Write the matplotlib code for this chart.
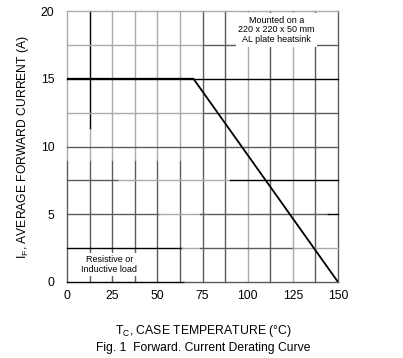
import matplotlib
matplotlib.use('Agg')
import matplotlib.pyplot as plt

plt.rcParams['font.family'] = ['Liberation Sans', 'DejaVu Sans']
plt.rcParams['mathtext.fontset'] = 'custom'
plt.rcParams['mathtext.rm'] = 'Liberation Sans'

# derating curve: case temperature (°C) vs average forward current (A)
case_temp = [0, 70, 150]
forward_current = [15, 15, 0]

x_ticks = [0, 25, 50, 75, 100, 125, 150]
y_ticks = [0, 5, 10, 15, 20]

LIGHT = '#ababab'
DARK = '#5c5c5c'
BLACK = '#000000'

fig = plt.figure(figsize=(4.03, 3.58), dpi=100)
ax = fig.add_axes([67 / 403, 76 / 358, 271 / 403, 271 / 358])
ax.set_xlim(0, 150)
ax.set_ylim(0, 20)
for s in ax.spines.values():
    s.set_visible(False)

# grid, drawn the way the scanned datasheet shows it (mixed line weights)
vgrid = [
    (12.5, [(0, 0.45, DARK), (0.45, 0.57, LIGHT), (0.57, 1, BLACK)]),
    (25, [(0, 0.45, DARK), (0.45, 1, LIGHT)]),
    (37.5, [(0, 0.45, DARK), (0.45, 1, LIGHT)]),
    (50, [(0, 0.45, DARK), (0.45, 1, LIGHT)]),
    (62.5, [(0, 0.45, DARK), (0.45, 1, LIGHT)]),
    (75, [(0, 1, DARK)]),
    (87.5, [(0, 1, DARK)]),
    (100, [(0, 1, LIGHT)]),
    (112.5, [(0, 1, DARK)]),
    (125, [(0, 1, LIGHT)]),
    (137.5, [(0, 1, DARK)]),
    (0, [(0, 0.45, DARK), (0.45, 1, LIGHT)]),
    (150, [(0, 1, DARK)]),
]
hgrid = [
    (0, [(0, 0.43, BLACK), (0.43, 1, DARK)]),
    (2.5, [(0, 0.424, BLACK), (0.424, 0.49, LIGHT), (0.49, 0.834, DARK), (0.834, 1, LIGHT)]),
    (5, [(0, 0.34, DARK), (0.34, 0.49, LIGHT), (0.49, 0.963, DARK), (0.963, 1, BLACK)]),
    (7.5, [(0, 0.19, DARK), (0.19, 0.6, LIGHT), (0.6, 1, BLACK)]),
    (10, [(0, 1, DARK)]),
    (12.5, [(0, 0.5, LIGHT), (0.5, 1, DARK)]),
    (15, [(0, 1, BLACK)]),
    (17.5, [(0, 0.5, LIGHT), (0.5, 1, DARK)]),
    (20, [(0, 1, LIGHT)]),
]
for x, segs in vgrid:
    for a, b, c in segs:
        ax.axvline(x, a, b, color=c, lw=1.0, clip_on=False, zorder=1)
for y, segs in hgrid:
    for a, b, c in segs:
        ax.axhline(y, a, b, color=c, lw=1.0, clip_on=False, zorder=1)

ax.plot(case_temp, forward_current, color='black', lw=1.3, zorder=3)

ax.set_xticks(x_ticks)
ax.set_yticks(y_ticks)
ax.tick_params(length=0, labelsize=8.8, colors='black')
ax.tick_params(axis='x', pad=6)
ax.tick_params(axis='y', pad=9)

ax.text(116, 18.6, 'Mounted on a\n220 x 220 x 50 mm\nAL plate heatsink', ha='center', va='center',
        fontsize=6.5, linespacing=1.12, zorder=4,
        bbox=dict(boxstyle='square,pad=0.25', fc='white', ec='none'))
ax.text(23.5, 1.3, 'Resistive or\nInductive load', ha='center', va='center',
        fontsize=6.5, linespacing=1.25, zorder=4,
        bbox=dict(boxstyle='square,pad=0.2', fc='white', ec='none'))

fig.text(23 / 403, 1 - 147 / 358, r'I$_\mathregular{F}$, AVERAGE FORWARD CURRENT (A)', rotation=90,
         ha='center', va='center', fontsize=8.7)
fig.text(203 / 403, 1 - 331 / 358, r'T$_\mathregular{C}$, CASE TEMPERATURE (°C)',
         ha='center', va='center', fontsize=8.8)
fig.text(203 / 403, 1 - 348 / 358, 'Fig. 1  Forward. Current Derating Curve',
         ha='center', va='center', fontsize=8.7)

fig.savefig('out.png', dpi=100)
